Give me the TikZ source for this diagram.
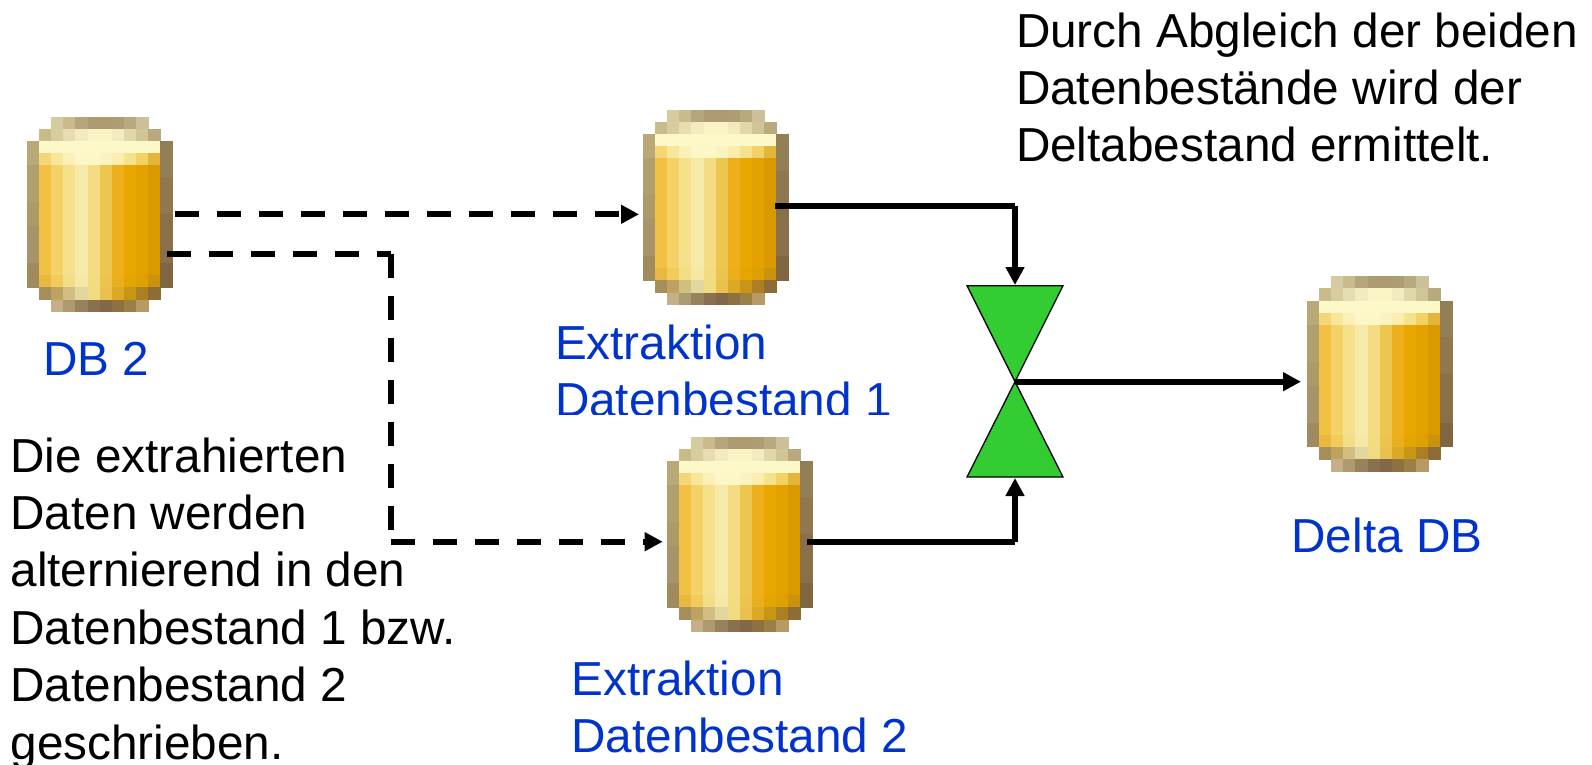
\documentclass[tikz,border=0pt]{standalone}
\usepackage{fontspec}
\setmainfont{Liberation Sans}
\usetikzlibrary{arrows.meta}
\definecolor{txtblue}{HTML}{0033CC}
\definecolor{tgreen}{HTML}{33CC33}
\definecolor{tpurple}{HTML}{9900CC}
\newcommand{\pxrow}[2]{%
  \foreach \c/\h in {#2}{%
    \definecolor{pxc}{HTML}{\h}%
    \fill[pxc] (\c*12.13-72.8-0.25,#1*12.2-97.6-0.25) rectangle (\c*12.13-60.67+0.25,#1*12.2-85.4+0.25);
  }%
}
\tikzset{
  x=1pt,y=-1pt,
  lbl/.style={inner sep=0pt,outer sep=0pt,anchor=north west,align=left,font=\fontsize{47.7}{57.4}\selectfont},
  lblblue/.style={lbl,text=txtblue},
  iconbox/.style={inner sep=0pt,minimum width=146pt,minimum height=195pt},
  plainconn/.style={line width=6pt,draw=black},
  solidconn/.style={plainconn,-{Triangle[length=18pt,width=18pt]}},
  dashplain/.style={plainconn,dash pattern=on 24pt off 18pt},
  dashconn/.style={solidconn,dash pattern=on 24pt off 18pt},
  hourglass/.style={draw=black,line width=1.3pt,fill=tgreen,line join=miter},
  dbicon/.pic={
    \pxrow{0}{2/D5CBA0,3/C9BC8A,4/B5A57A,5/AE9A70,6/AE9A70,7/AE9C72,8/B8A97F,9/CBC09A}
    \pxrow{1}{1/C9BC8A,2/D8CDA0,3/E6DDB0,4/F2EBC0,5/FAF3C5,6/FAF3C5,7/F2EBC0,8/E0D8A8,9/CFC596,10/B8A97F}
    \pxrow{2}{0/B9A878,1/FCF8C8,2/FCF8C8,3/FCF8C8,4/FCF8C8,5/FCF8C8,6/FCF8C8,7/FCF8C8,8/FCF8C8,9/FCF8C8,10/FCF8C8,11/947E55}
    \pxrow{3}{0/B9A878,1/F5D675,2/F8E69A,3/FCF0B8,4/FDF7C8,5/FDF7C8,6/FBF2C2,7/FBEDAA,8/F5E28C,9/F3D164,10/E3B53A,11/947E55}
    \foreach \r/\a/\b in {4/B0A070/947E55,5/B0A070/8F7850,6/B0A070/8F7850,7/AD9A6A/8F7850,8/AD9A6A/8A7049,9/A8946A/8A7049,10/A8946A/8A7049,11/A8946A/8A7049,12/A08B60/7F6540}{
      \pxrow{\r}{0/\a,1/F0C143,2/F4D268,3/F5E08C,4/F6EAA8,5/F4DC84,6/EDC64E,7/EEAF1D,8/E9A800,9/E3A200,10/D89A00,11/\b}
    }
    \pxrow{13}{0/A08B60,1/E8B840,2/F1CC5A,3/F3DE88,4/F5E8A5,5/F3DC80,6/ECC44C,7/EDAE1C,8/E5A500,9/DDA000,10/C9920F,11/7F6540}
    \pxrow{14}{1/A88E58,2/BFA25F,3/D2BF80,4/E2D7A0,5/EFDB80,6/EBC04F,7/DCA925,8/C99516,9/AC7F25,10/8F6C35}
    \pxrow{15}{2/C4B088,3/AC9A70,4/98825A,5/8B7050,6/836848,7/8F7040,8/9B7F45,9/B89A65}
  }
}
\begin{document}
\begin{tikzpicture}
\useasboundingbox (0,0) rectangle (1592,765);
% title remnant
\node[lbl,text=tpurple] (titleg) at (198,-38) {g};
% labels
\node[lbl] (note1) at (1016,12.5) {Durch Abgleich der beiden\\Datenbestände wird der\\Deltabestand ermittelt.};
\node[lblblue] (lab1) at (555,325) {Extraktion\\Datenbestand 1};
\fill[white] (540,415) rectangle (910,436);
\node[lblblue] (labdb2) at (43,342) {DB 2};
\node[lblblue] (labdelta) at (1291.5,518) {Delta DB};
\node[lblblue] (lab2) at (571.5,660.5) {Extraktion\\Datenbestand 2};
% icons
\node[iconbox] (db2) at (100,214.5) {};
\node[iconbox] (ex1) at (716,207.5) {};
\node[iconbox] (ex2) at (740,534.5) {};
\node[iconbox] (delta) at (1380,374) {};
\pic at (db2) {dbicon};
\pic at (ex1) {dbicon};
\pic at (ex2) {dbicon};
\pic at (delta) {dbicon};
% hourglass
\node[inner sep=0pt] (hg) at (1015,381.7) {};
\coordinate (hgtop) at (1015,285);
\coordinate (hgbot) at (1015,478);
\draw[hourglass] (967,285.7) -- (1063,285.7) -- (hg.center) -- cycle;
\draw[hourglass] (967,477) -- (1063,477) -- (hg.center) -- cycle;
% connectors
\coordinate (db2a) at (175,214.3);
\coordinate (db2b) at (167,254);
\coordinate (dbend1) at (639,214.3);
\coordinate (dbend2) at (662.7,541.7);
\coordinate (dbmid) at (391,254);
\coordinate (dbcor) at (391,541.7);
\coordinate (ex1out) at (775,206);
\coordinate (ex1cor) at (1015,206);
\coordinate (ex2out) at (807,542);
\coordinate (ex2cor) at (1015,542);
\coordinate (hgout) at (1301,381.7);
\draw[dashconn] (db2a) -- (dbend1);
\draw[dashplain] (db2b) -- (dbmid);
\draw[dashplain] (dbmid) -- (dbcor);
\draw[dashconn] (dbcor) -- (dbend2);
\draw[plainconn] (ex1out) -- (ex1cor);
\draw[solidconn] (ex1cor) -- (hgtop);
\draw[plainconn] (ex2out) -- (ex2cor);
\draw[solidconn] (ex2cor) -- (hgbot);
\draw[solidconn] (hg.center) -- (hgout);
% left note
\node[lbl] (note2) at (10.5,437.5) {Die extrahierten\\Daten werden\\alternierend in den\\Datenbestand 1 bzw.\\Datenbestand 2\\geschrieben.};
\end{tikzpicture}
\end{document}
